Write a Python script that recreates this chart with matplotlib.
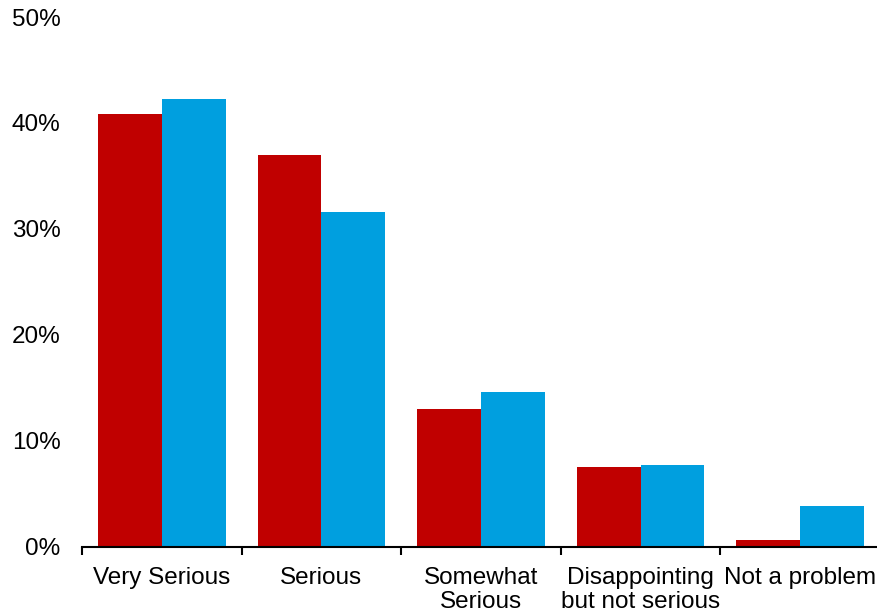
import matplotlib
matplotlib.use("Agg")
import matplotlib.pyplot as plt
import numpy as np
from matplotlib.ticker import FixedLocator, PercentFormatter

plt.rcParams['font.family'] = ['Liberation Sans', 'DejaVu Sans']

categories = ["Very Serious", "Serious", "Somewhat\nSerious",
              "Disappointing\nbut not serious", "Not a problem"]
series_red = [40.8, 37.0, 13.0, 7.5, 0.6]
series_blue = [42.3, 31.6, 14.6, 7.7, 3.85]
y_ticks = [0, 10, 20, 30, 40, 50]

fig = plt.figure(figsize=(8.78, 6.14), dpi=100)
ax = fig.add_axes([82 / 878, (614 - 546.5) / 614, 796 / 878, (546.5 - 17) / 614])

x = np.arange(len(categories))
w = 0.4
ax.bar(x - w / 2, series_red, width=w, color="#C00000", linewidth=0)
ax.bar(x + w / 2, series_blue, width=w, color="#009FDF", linewidth=0)

ax.set_xlim(-0.5, len(categories) - 0.5 - 2 / 159.6)
ax.set_ylim(0, 50)

ax.set_yticks(y_ticks)
ax.yaxis.set_major_formatter(PercentFormatter(decimals=0))
ax.tick_params(axis='y', length=0, pad=15.5, labelsize=17.5)

ax.set_xticks(x)
ax.set_xticklabels(categories, fontsize=17.5, linespacing=1.14)
ax.xaxis.set_minor_locator(FixedLocator(np.arange(-0.5, len(categories), 1.0)))
ax.tick_params(axis='x', which='major', length=0, pad=14.5)
ax.tick_params(axis='x', which='minor', length=6, width=1.5, direction='out', color='black')

for side in ("top", "right", "left"):
    ax.spines[side].set_visible(False)
ax.spines["bottom"].set_linewidth(1.5)
ax.spines["bottom"].set_color("black")

fig.savefig("out.png", dpi=100)
